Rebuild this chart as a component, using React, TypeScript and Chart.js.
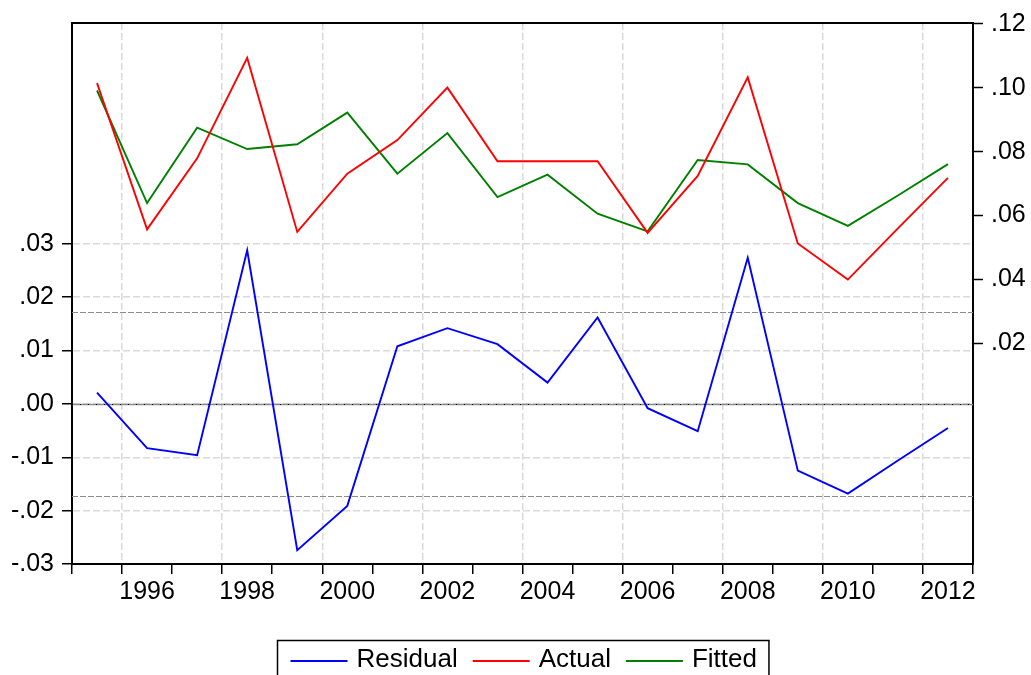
import React, { useEffect, useRef } from 'react';
import { Chart, registerables } from 'chart.js';

Chart.register(...registerables);

const YEARS = [1995, 1996, 1997, 1998, 1999, 2000, 2001, 2002, 2003, 2004, 2005, 2006, 2007, 2008, 2009, 2010, 2011, 2012];
const RESIDUAL = [0.0021, -0.0083, -0.0096, 0.0288, -0.0274, -0.0191, 0.0108, 0.0142, 0.0112, 0.0040, 0.0162, -0.0008, -0.0051, 0.0274, -0.0125, -0.0168, -0.0106, -0.0045];
const ACTUAL = [0.1014, 0.0557, 0.0779, 0.1093, 0.0549, 0.0731, 0.0836, 0.1000, 0.0770, 0.0770, 0.0770, 0.0546, 0.0724, 0.1032, 0.0513, 0.0400, 0.0560, 0.0718];
const FITTED = [0.0991, 0.0639, 0.0875, 0.0808, 0.0823, 0.0922, 0.0731, 0.0858, 0.0658, 0.0728, 0.0606, 0.0551, 0.0774, 0.0760, 0.0639, 0.0568, 0.0663, 0.0761];

const X_TICKS = [1995, 1996, 1997, 1998, 1999, 2000, 2001, 2002, 2003, 2004, 2005, 2006, 2007, 2008, 2009, 2010, 2011, 2012, 2013];
const LEFT_TICKS = [-0.03, -0.02, -0.01, 0, 0.01, 0.02, 0.03];
const RIGHT_TICKS = [0.02, 0.04, 0.06, 0.08, 0.1, 0.12];
const SE_LINES = [0.0173, -0.0173];
const ZERO_LINE = 0;

const FONT = '"Liberation Sans", Arial, sans-serif';

const fmt = (v: number) => {
  const s = Math.abs(v).toFixed(2).replace(/^0/, '');
  return v < -1e-9 ? '-' + s : s;
};

const refLinesPlugin = {
  id: 'refLines',
  beforeDatasetsDraw(chart: any) {
    const { ctx, chartArea } = chart;
    const y = chart.scales.yL;
    ctx.save();
    ctx.beginPath();
    ctx.rect(chartArea.left, chartArea.top, chartArea.right - chartArea.left, chartArea.bottom - chartArea.top);
    ctx.clip();
    ctx.strokeStyle = '#8c8c8c';
    ctx.lineWidth = 1.2;
    ctx.setLineDash([6, 2]);
    SE_LINES.forEach((v) => {
      const py = Math.round(y.getPixelForValue(v)) + 0.5;
      ctx.beginPath();
      ctx.moveTo(chartArea.left, py);
      ctx.lineTo(chartArea.right, py);
      ctx.stroke();
    });
    const pz = Math.round(y.getPixelForValue(ZERO_LINE)) + 0.5;
    ctx.setLineDash([]);
    ctx.strokeStyle = '#8a8a8a';
    ctx.lineWidth = 1.5;
    ctx.beginPath();
    ctx.moveTo(chartArea.left, pz);
    ctx.lineTo(chartArea.right, pz);
    ctx.stroke();
    ctx.setLineDash([1, 7]);
    ctx.strokeStyle = '#000';
    ctx.lineWidth = 1;
    ctx.beginPath();
    ctx.moveTo(chartArea.left, pz);
    ctx.lineTo(chartArea.right, pz);
    ctx.stroke();
    ctx.restore();
  },
};

const framePlugin = {
  id: 'frame',
  afterDraw(chart: any) {
    const { ctx, chartArea } = chart;
    ctx.save();
    ctx.strokeStyle = '#000';
    ctx.lineWidth = 2;
    ctx.beginPath();
    ctx.moveTo(chartArea.left - 1, chartArea.top);
    ctx.lineTo(chartArea.right + 1, chartArea.top);
    ctx.stroke();
    ctx.restore();
  },
};

const legendPlugin = {
  id: 'boxLegend',
  afterDraw(chart: any) {
    const { ctx, chartArea } = chart;
    const ds = chart.data.datasets;
    ctx.save();
    ctx.font = '26px ' + FONT;
    const padL = 13, lineW = 57, gap = 9, itemGap = 15, padR = 12;
    const widths = ds.map((d: any) => ctx.measureText(d.label).width);
    const total = padL + padR + ds.length * (lineW + gap) + widths.reduce((a: number, b: number) => a + b, 0) + itemGap * (ds.length - 1);
    const cx = (chartArea.left + chartArea.right) / 2;
    const x0 = Math.round(cx - total / 2) + 0.5;
    const top = chartArea.bottom + 76.5;
    ctx.strokeStyle = '#000';
    ctx.lineWidth = 1.5;
    ctx.strokeRect(x0, top, total, 60);
    let x = x0 + padL;
    const ly = top + 20.5;
    ds.forEach((d: any, i: number) => {
      ctx.strokeStyle = d.borderColor;
      ctx.lineWidth = 2;
      ctx.beginPath();
      ctx.moveTo(x, ly);
      ctx.lineTo(x + lineW, ly);
      ctx.stroke();
      ctx.fillStyle = '#000';
      ctx.textBaseline = 'alphabetic';
      ctx.textAlign = 'left';
      ctx.fillText(d.label, x + lineW + gap, top + 26.5);
      x += lineW + gap + widths[i] + itemGap;
    });
    ctx.restore();
  },
};

export default function App() {
  const ref = useRef<HTMLCanvasElement>(null);
  useEffect(() => {
    if (!ref.current) return;
    const mk = (arr: number[]) => YEARS.map((yr, i) => ({ x: yr + 0.5, y: arr[i] }));
    const chart = new Chart(ref.current, {
      type: 'line',
      data: {
        datasets: [
          { label: 'Residual', data: mk(RESIDUAL), borderColor: '#0000ff', backgroundColor: '#0000ff', yAxisID: 'yL' },
          { label: 'Actual', data: mk(ACTUAL), borderColor: '#ff0000', backgroundColor: '#ff0000', yAxisID: 'yR' },
          { label: 'Fitted', data: mk(FITTED), borderColor: '#008000', backgroundColor: '#008000', yAxisID: 'yR' },
        ],
      },
      options: {
        animation: false,
        responsive: false,
        layout: { padding: { top: 23, left: 0, right: 0, bottom: 0 } },
        plugins: { legend: { display: false }, tooltip: { enabled: false } },
        elements: { line: { borderWidth: 1.9, tension: 0 }, point: { radius: 0 } },
        scales: {
          x: {
            type: 'linear',
            min: 1995,
            max: 2013,
            afterBuildTicks: (s: any) => { s.ticks = X_TICKS.map((v) => ({ value: v })); },
            afterFit: (s: any) => { s.height = 111; },
            ticks: {
              autoSkip: false,
              maxRotation: 0,
              minRotation: 0,
              labelOffset: 25,
              padding: 3,
              color: '#000',
              font: { family: FONT, size: 25 },
              callback: (v: any) => (v % 2 === 0 && v < 2013 ? String(v) : ''),
            },
            grid: {
              color: (c: any) => (c.tick && c.tick.value % 2 === 0 && c.tick.value > 1995 && c.tick.value < 2013 ? '#dadada' : 'transparent'),
              lineWidth: 1.5,
              tickColor: '#000',
              tickLength: 10,
              tickWidth: 1.5,
            },
            border: { color: '#000', width: 2, dash: [7, 3] },
          },
          yL: {
            type: 'linear',
            position: 'left',
            min: -0.03,
            max: 0.0714,
            afterBuildTicks: (s: any) => { s.ticks = LEFT_TICKS.map((v) => ({ value: v })); },
            afterFit: (s: any) => { s.width = 72; },
            ticks: { padding: 8, color: '#000', font: { family: FONT, size: 25 }, callback: (v: any) => fmt(Number(v)) },
            grid: { color: '#dadada', lineWidth: 1.5, tickColor: '#000', tickLength: 10, tickWidth: 1.5 },
            border: { color: '#000', width: 2, dash: [7, 3] },
          },
          yR: {
            type: 'linear',
            position: 'right',
            min: -0.0489,
            max: 0.1202,
            afterBuildTicks: (s: any) => { s.ticks = RIGHT_TICKS.map((v) => ({ value: v })); },
            afterFit: (s: any) => { s.width = 58; },
            ticks: { padding: 8, color: '#000', font: { family: FONT, size: 25 }, callback: (v: any) => fmt(Number(v)) },
            grid: { drawOnChartArea: false, tickColor: '#000', tickLength: 10, tickWidth: 1.5 },
            border: { color: '#000', width: 2 },
          },
        },
      } as any,
      plugins: [refLinesPlugin, framePlugin, legendPlugin],
    });
    return () => chart.destroy();
  }, []);
  return (
    <div style={{ position: 'fixed', left: 0, top: 0, width: 1031, height: 675, background: '#fff', overflow: 'hidden' }}>
      <canvas ref={ref} width={1031} height={675} style={{ display: 'block', width: 1031, height: 675 }} />
    </div>
  );
}
